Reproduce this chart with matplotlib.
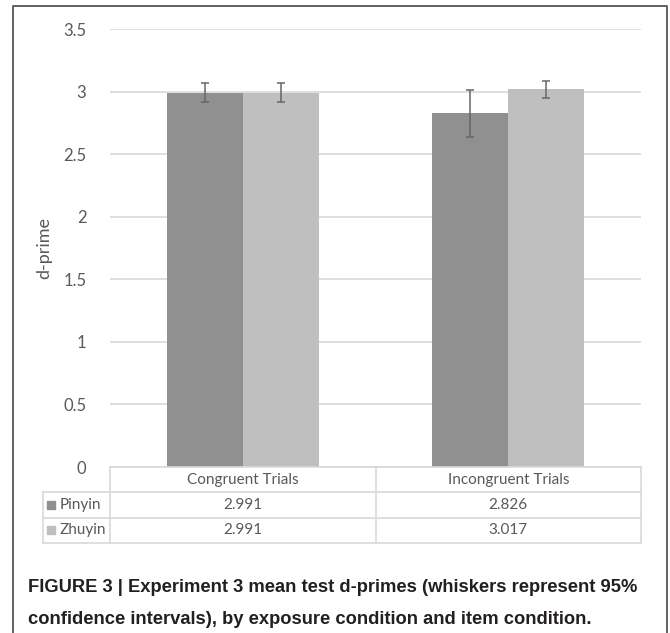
import matplotlib
matplotlib.use("Agg")
import matplotlib.pyplot as plt
from matplotlib.patches import Rectangle
from matplotlib.lines import Line2D

categories = ["Congruent Trials", "Incongruent Trials"]
series_names = ["Pinyin", "Zhuyin"]
pinyin = [2.991, 2.826]
zhuyin = [2.991, 3.017]
pinyin_err = [0.075, 0.19]
zhuyin_err = [0.075, 0.07]
yticks = [0, 0.5, 1, 1.5, 2, 2.5, 3, 3.5]
ytick_labels = ["0", "0.5", "1", "1.5", "2", "2.5", "3", "3.5"]
caption_lines = ["FIGURE 3 | Experiment 3 mean test d-primes (whiskers represent 95%",
                 "confidence intervals), by exposure condition and item condition."]

W, H = 670, 633
fig = plt.figure(figsize=(W / 100, H / 100), dpi=100)
fig.patch.set_facecolor("white")

TXT = "#595959"
GRID = "#d9d9d9"
C_P = "#909090"
C_Z = "#bfbfbf"
FONT = ["Lato", "DejaVu Sans"]
FS = 11
FS_AX = 12

def fx(px):
    return px / W

def fy(py):
    return 1 - py / H

# outer frame
fig.add_artist(Line2D([fx(13), fx(13), fx(667), fx(667)], [fy(H + 5), fy(6), fy(6), fy(H + 5)],
                      transform=fig.transFigure, color="#555555", lw=1.3))

# main axes
x0, x1 = 110, 641
y0, y1 = 467, 29
ax = fig.add_axes([fx(x0), fy(y0), fx(x1 - x0), (y0 - y1) / H])
ax.set_xlim(0, 2)
ax.set_ylim(0, 3.5)
for s in ax.spines.values():
    s.set_visible(False)
ax.set_yticks(yticks)
ax.set_yticklabels(ytick_labels, fontsize=FS_AX, color=TXT, family=FONT)
ax.tick_params(axis="y", length=0, pad=17)
ax.set_xticks([])
ax.grid(axis="y", color=GRID, lw=1.2)
ax.set_axisbelow(True)
ax.set_ylabel("d-prime", fontsize=13, color=TXT, family=FONT, labelpad=8)

bw = 76 / 265.5
xs = [0.5, 1.5]
ax.bar([x - bw / 2 for x in xs], pinyin, width=bw, color=C_P, zorder=2)
ax.bar([x + bw / 2 for x in xs], zhuyin, width=bw, color=C_Z, zorder=2)
ax.errorbar([x - bw / 2 for x in xs], pinyin, yerr=pinyin_err, fmt="none",
            ecolor="#666666", elinewidth=1.1, capsize=3.2, capthick=1.1, zorder=3)
ax.errorbar([x + bw / 2 for x in xs], zhuyin, yerr=zhuyin_err, fmt="none",
            ecolor="#666666", elinewidth=1.1, capsize=3.2, capthick=1.1, zorder=3)

# data table
tl, tr = 43, 641
tt, tb = 467, 543
axt = fig.add_axes([fx(tl), fy(tb), fx(tr - tl), (tb - tt) / H])
axt.set_xlim(-(x0 - tl) / (x1 - x0) * 2, 2)
axt.set_ylim(0, 3)
axt.axis("off")
lc = GRID
lw = 1.2
xl = axt.get_xlim()[0]
axt.plot([0, 2], [3, 3], color=lc, lw=lw, clip_on=False)
for yy in [0, 1, 2]:
    axt.plot([xl, 2], [yy, yy], color=lc, lw=lw, clip_on=False)
axt.plot([xl, xl], [0, 2], color=lc, lw=lw, clip_on=False)
for xx in [0, 1, 2]:
    axt.plot([xx, xx], [0, 3], color=lc, lw=lw, clip_on=False)
for i, c in enumerate(categories):
    axt.text(xs[i], 2.5, c, ha="center", va="center", fontsize=FS, color=TXT, family=FONT)
rows = [(series_names[0], pinyin, C_P, 1.5), (series_names[1], zhuyin, C_Z, 0.5)]
for name, vals, col, yc in rows:
    sqw = 8 / 265.5
    sqh = 8 / 25.3
    axt.add_patch(Rectangle((xl + 0.015, yc - sqh / 2), sqw, sqh, color=col, clip_on=False))
    axt.text(xl + 0.062, yc, name, ha="left", va="center", fontsize=FS, color=TXT, family=FONT)
    for i, v in enumerate(vals):
        axt.text(xs[i], yc, f"{v:.3f}", ha="center", va="center", fontsize=FS, color=TXT, family=FONT)

# caption
for line, ypx in zip(caption_lines, [588, 620]):
    fig.text(fx(28), fy(ypx), line, ha="left", va="center", fontsize=13.2, fontweight="bold",
             color="#231f20", family=["Liberation Sans", "DejaVu Sans"])

fig.savefig("out.png", dpi=100, facecolor="white")
